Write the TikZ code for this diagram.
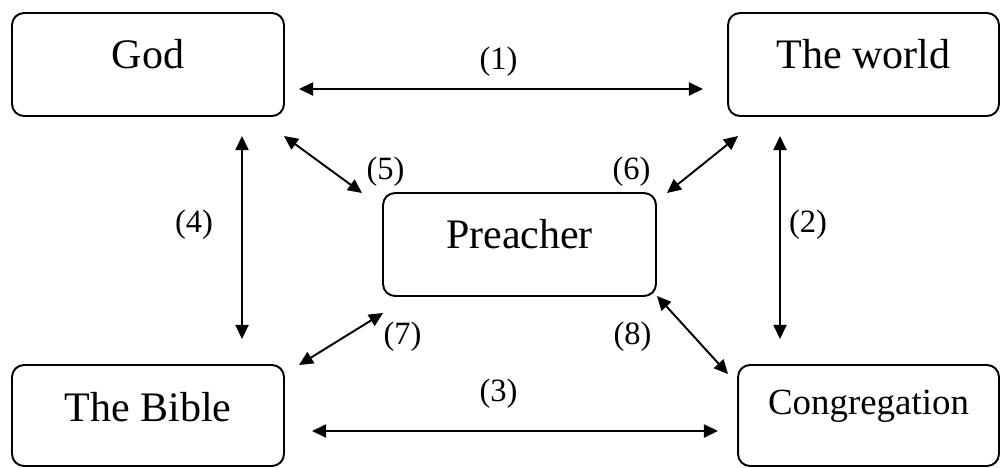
\documentclass[tikz,border=0pt]{standalone}
\usepackage{fontspec}
\setmainfont{Liberation Serif}
\usetikzlibrary{positioning, calc, arrows.meta}

\begin{document}
\begin{tikzpicture}[x=0.02cm, y=-0.02cm, line width=1.1pt]
    % Define block styles
    \tikzstyle{block} = [rectangle, draw, rounded corners=0.24cm, minimum width=5.44cm, minimum height=2.06cm, inner sep=0pt, outer sep=0pt, text height=1.1cm, text depth=0.96cm, font=\fontsize{23.9pt}{28pt}\selectfont]
    \tikzstyle{link} = [{Triangle[length=8pt, width=7.4pt]}-{Triangle[length=8pt, width=7.4pt]}]
    \tikzstyle{num} = [anchor=base, inner sep=0pt, font=\fontsize{18.5pt}{22pt}\selectfont]

    \useasboundingbox (0,0) rectangle (1000,467);

    % Place nodes
    \node [block] (god) at (148,64.5) {God};
    \node [block, minimum width=5.42cm] (world) at (863.5,64.5) {The world};
    \node [block, minimum width=5.46cm] (preacher) at (519.5,244.5) {Preacher};
    \node [block, minimum height=2.02cm, text height=1.12cm, text depth=0.9cm] (bible) at (148,415.5) {The Bible};
    \node [block, minimum width=5.22cm, minimum height=2.02cm, text height=0.98cm, text depth=1.04cm, font=\fontsize{21pt}{25pt}\selectfont] (congregation) at (868.5,415.5) {Congregation};

    % Draw two-way arrows between the blocks
    \draw [link] ([shift={(15,24.5)}]god.east) -- ([shift={(-25,24.5)}]world.west);
    \draw [link] ([shift={(-83.5,20)}]world.south) -- ([shift={(-88.5,-26)}]congregation.north);
    \draw [link] ([shift={(28,15.5)}]bible.east) -- ([shift={(-20,15.5)}]congregation.west);
    \draw [link] ([shift={(94,20)}]god.south) -- ([shift={(94,-26)}]bible.north);
    \draw [link] ([shift={(0,20)}]god.south east) -- ([shift={(-21,0)}]preacher.north west);
    \draw [link] ([shift={(10,20)}]world.south west) -- ([shift={(11,0)}]preacher.north east);
    \draw [link] ([shift={(15,0)}]bible.north east) -- ([shift={(0,17)}]preacher.south west);
    \draw [link] ([shift={(1,0)}]preacher.south east) -- ([shift={(-10,9)}]congregation.north west);

    % Numbers next to the arrows
    \node [num] (n1) at (498.5,69) {(1)};
    \node [num] (n2) at (808,232) {(2)};
    \node [num] (n3) at (498.5,401) {(3)};
    \node [num] (n4) at (194,232) {(4)};
    \node [num] (n5) at (385.5,179) {(5)};
    \node [num] (n6) at (631.5,179) {(6)};
    \node [num] (n7) at (402.5,344) {(7)};
    \node [num] (n8) at (632.5,344) {(8)};
\end{tikzpicture}
\end{document}
